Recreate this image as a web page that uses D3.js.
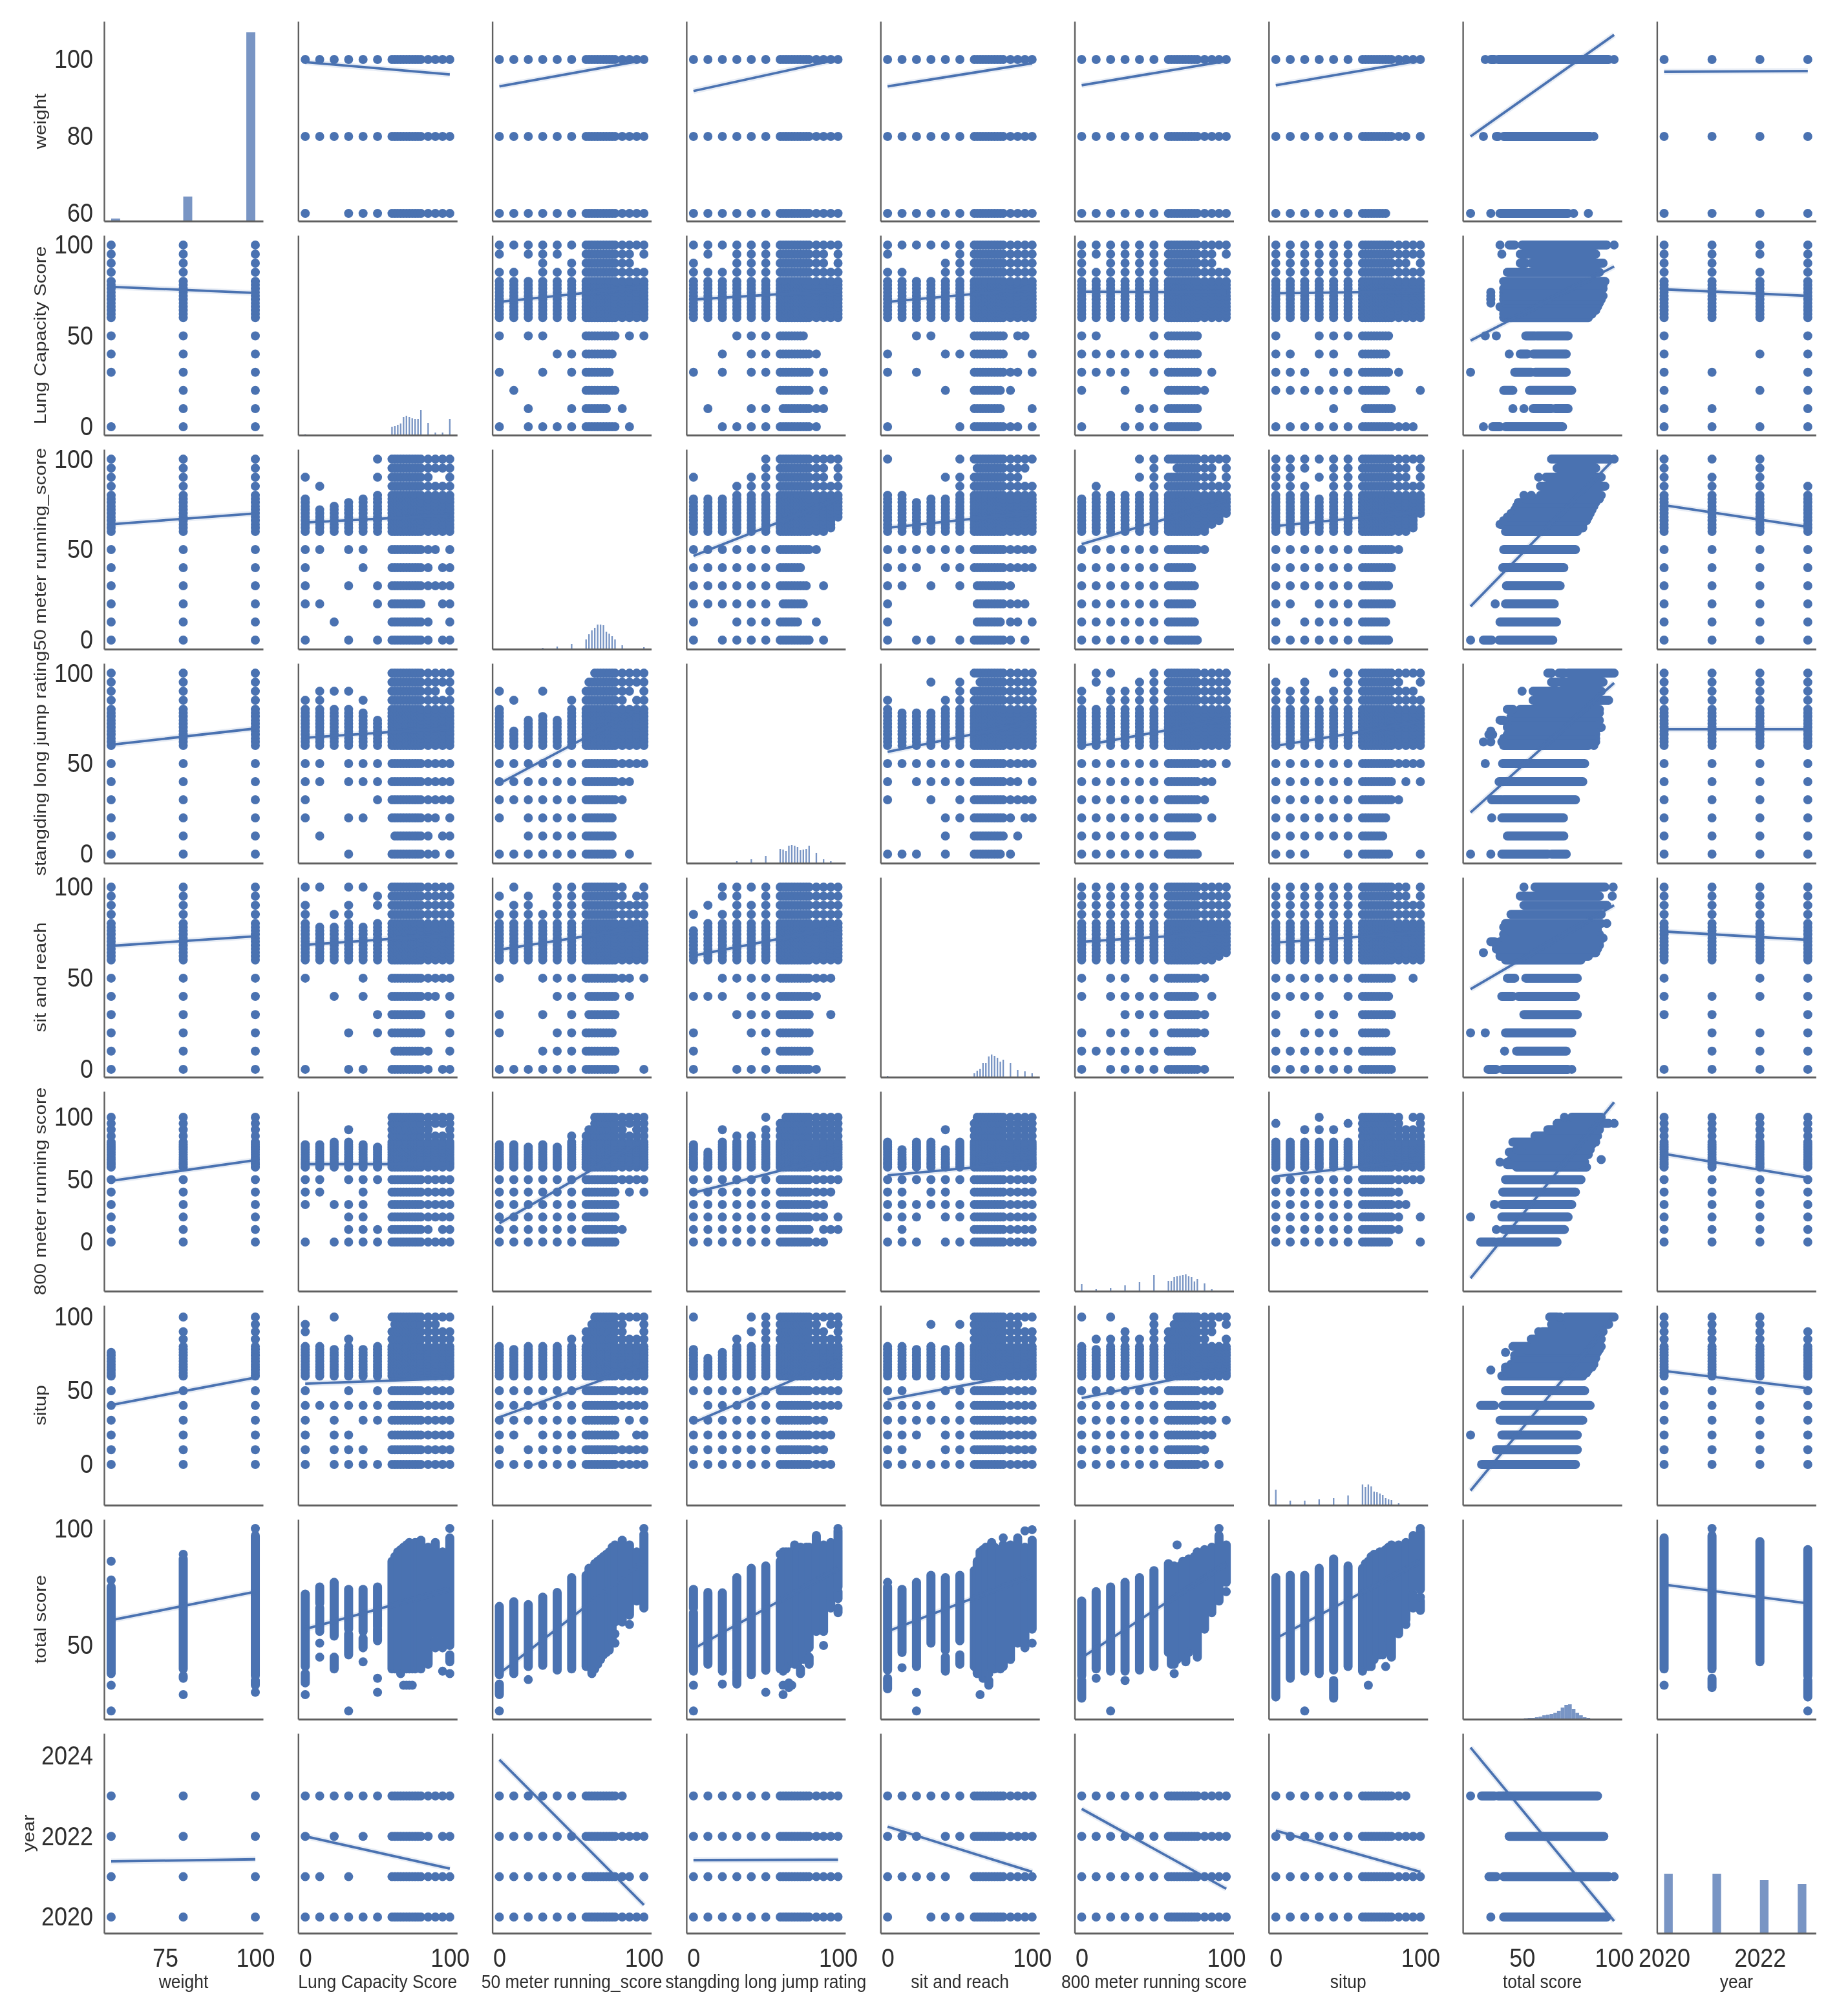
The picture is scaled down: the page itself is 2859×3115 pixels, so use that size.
<!DOCTYPE html>
<html><head><meta charset="utf-8">
<script src="https://cdn.jsdelivr.net/npm/d3@7"></script>
<style>
html,body{margin:0;padding:0;background:#fff}
svg{display:block;filter:blur(0.7px)}
text{font-family:"Liberation Sans",Arial,sans-serif;fill:#2e2e2e}
</style></head><body><svg id="c" width="2859" height="3115"></svg>
<script>
const variables=["weight","lung","run50","jump","sit","run800","situp","total","year"];
const axisLabels=["weight","Lung Capacity Score","50 meter running_score","stangding long jump rating","sit and reach","800 meter running score","situp","total score","year"];
const scoreLevels=[0,10,20,30,40,50,60,62,64,66,68,70,72,74,76,78,80,85,90,95,100];
const weightLevels=[60,80,100], yearLevels=[2020,2021,2022,2023];

const xDomains={weight:[58.03,102.15],lung:[-4.9,105.1],run50:[-4.9,105.1],jump:[-4.9,105.1],sit:[-4.9,105.1],run800:[-4.9,105.1],situp:[-4.9,105.1],total:[17.8,104.2],year:[2019.85,2023.17]};
const yDomains={weight:[58,109.9],lung:[-4.6,105.3],run50:[-5,105.4],jump:[-5,105.4],sit:[-4.3,105.3],run800:[-39.4,120.7],situp:[-27.6,107.9],total:[18.5,103.9],year:[2019.6,2024.55]};
const xTicks={weight:[75,100],lung:[0,100],run50:[0,100],jump:[0,100],sit:[0,100],run800:[0,100],situp:[0,100],total:[50,100],year:[2020,2022]};
const yTicks={weight:[60,80,100],lung:[0,50,100],run50:[0,50,100],jump:[0,50,100],sit:[0,50,100],run800:[0,50,100],situp:[0,50,100],total:[50,100],year:[2020,2022,2024]};

/* diagonal histograms: [bin centre, bar height] */
const hist_weight=[[61.25,4],[81.25,38],[98.75,292]];
const hist_lung=[[0,1.5],[60,13],[62,14],[64,16],[66,18],[68,28],[70,30],[72,28],[74,26],[76,25],[78,25],[80,39],[85,19],[90,4],[95,4],[100,25]];
const hist_run50=[[30,2],[40,4],[50,8],[60,15],[62,23],[64,29],[66,33],[68,38],[70,38],[72,37],[74,27],[76,24],[78,20],[80,15],[85,6],[100,3]];
const hist_jump=[[30,3],[40,6],[50,11],[60,22],[62,21],[64,19],[66,27],[68,28],[70,27],[72,25],[74,20],[76,21],[78,22],[80,27],[85,16],[90,6],[95,3],[100,1]];
const hist_sit=[[0,2],[60,6],[62,10],[64,13],[66,22],[68,22],[70,32],[72,35],[74,33],[76,30],[78,24],[80,27],[85,22],[90,11],[95,9],[100,6]];
const hist_run800=[[0,11],[10,3],[20,5],[30,9],[40,14],[50,25],[60,16],[62,16],[64,22],[66,23],[68,24],[70,25],[72,26],[74,23],[76,22],[78,15],[80,19],[85,12],[90,3],[95,1]];
const hist_situp=[[0,24],[10,7],[20,7],[30,9],[40,11],[50,15],[60,32],[62,28],[64,32],[66,29],[68,21],[70,20],[72,18],[74,16],[76,11],[78,9],[80,8],[85,3]];
const hist_total=[[40,1],[44,1],[48,1],[52,1.5],[54,2],[56,2],[58,3],[60,4],[62,6],[64,7],[66,8],[68,10],[70,13],[72,18],[74,22],[76,23],[78,16],[80,10],[82,6],[84,3],[86,2],[88,1],[90,1],[92,1],[94,1]];
const hist_year=[[2020.09,92],[2021.1,92],[2022.09,82],[2022.88,76]];
const histWidth={weight:2.5,lung:1.05,run50:1.05,jump:1.05,sit:1.05,run800:1.05,situp:1.05,total:2.0,year:0.18};

/* regression lines: [y at smallest x, y at largest x], by column */
const reg_weight=[null,[99.3,96.1],[93,99.8],[91.8,100],[93,99],[93.3,99.6],[93.3,99.7],[80,106.4],[96.8,97]];
const reg_lung=[[77,73.6],null,[68.7,77],[70,75],[68.7,76],[74.3,74],[73.4,74.5],[47.4,88.2],[75.6,72]];
const reg_run50=[[64,70],[65,69],null,[46.5,78],[62,70.5],[53,77],[63,71],[18.6,100],[74.5,62.6]];
const reg_jump=[[60.4,69.4],[64.3,69.6],[39,81.6],null,[56.5,73],[59.8,74.5],[59.8,73],[23,94.6],[69,69]];
const reg_sit=[[67.7,73],[68.3,73.8],[65.6,78],[62.3,78],null,[70,75],[69.5,75],[44,90],[75.6,71]];
const reg_run800=[[49,65.6],[62.4,62.4],[15,82],[39.4,69],[53.4,64],null,[52.6,66],[-29,112],[70.6,51.5]];
const reg_situp=[[40.3,59],[54.8,58.3],[32,67.7],[28.4,70.4],[43.9,62.4],[45,65],null,[-17.7,99.6],[63.4,51.7]];
const reg_total=[[60.8,73],[57,74],[38,86],[48.6,83],[56,80],[44.8,85],[53,86],null,[76,68]];
const reg_year=[[2021.38,2021.43],[2022,2021.2],[2023.9,2020.3],[2021.41,2021.42],[2022.24,2021.12],[2022.68,2020.7],[2022.14,2021.12],[2024.2,2019.9],null];
const regTable={weight:reg_weight,lung:reg_lung,run50:reg_run50,jump:reg_jump,sit:reg_sit,run800:reg_run800,situp:reg_situp,total:reg_total,year:reg_year};
const xEnds={weight:[60,100],lung:[0,100],run50:[0,100],jump:[0,100],sit:[0,100],run800:[0,100],situp:[0,100],total:[22,100],year:[2020,2023]};

/* total score spans seen at each score level (same order as scoreLevels) */
const total_lung=["29 34-38 41-72","45 51 56-66 68-75","40-45 54-77","22 46-55 57-74","43 49-53 56-74","30 36 52-57 58-75","40-86","40-88","40-90","38-91","33 41-92","33 40-93","33 40-94","33 40-93","40-94","41-94","40-95","42-92","49-52 55-94","39 49-90","38 43-46 50-96 100"];
const total_run50=["22 29-33.5 37.5-66.7","38-68.7","35.4 41-67.5","41.5-70.7","39.5-72.7","40-79","41-80","44-83","38-83","40-85","42-86","44-87","46-88","47-89","48-90","52-92","51 55 60-93","60-95","59 63-93","69-90","66-97.5 100"];
const total_jump=["22 33 39-64 66-74","42-72.7","33.5 39-72.5","33.5-39 40-79","37.5-83","30 39.4-84","40-86 89","29 33 39-90","40-90","32-34 42-90","33 43-90","42-93","42-91","38-40 45-92","44-90","46-92","42-45 49-92","56-97","50 56-93","66-69 71-94","64-66 70-73 75-99 100"];
const total_sit=["31.5-36 39.5-75 77","40.5 47-74","22 30 41-77","51-80","39-45 48-79","42-46 52-80","41-82","38-86","29 38-90","36-91","36-92","33-35 38-92","40-94","40-92","43-91","40-91","41-93 96","44-93","51-96","49-92 99","51 57-95 99.5"];
const total_run800=["27.5-35 37-69","36 40-73","22 39-75","35 39-77","39.5-79","41-82","47-85","42-80","38 42-84","44-83 93","46-84","45-86","43-86","47-87","50-86","52-88","45-90","57-91","64-92","69-97 100","73 77-93"];
const total_situp=["28-79","36-80","22 39-80","38-83","27.5-35 39.5-87","41-84","39-83","42-85","33 41-86","41-88","44-89","46-89","46-90","46-90","41 48-91","52-92","45-93","55-93","59 61-94","66-72 75-97","65-69 70.7 74-99 100"];
const total_weight=["22 33 38-75 78 86","29 36-37 40-87 89","30 33-35 37-97 100"];
const total_year=["33 40-96","32-36 40-97 100","43-94.4","22 28-35 37-91"];

/* which score levels occur for each weight / year: low six, middle eleven, top four */
const fullLevels="111111 11111111111 1111";
const weight_lung=["100111 11111111111 1111",fullLevels,fullLevels];
const weight_run50=[fullLevels,fullLevels,fullLevels];
const weight_jump=[fullLevels,fullLevels,fullLevels];
const weight_sit=[fullLevels,fullLevels,fullLevels];
const weight_run800=[fullLevels,fullLevels,fullLevels];
const weight_situp=["111111 11111111100 0000","111111 11111111111 1101",fullLevels];
const year_lung=[fullLevels,"110100 11111111111 1111","101010 11111111111 1011",fullLevels];
const year_run50=[fullLevels,"111111 11111111111 1101",fullLevels,"111111 11111111111 1000"];
const year_jump=[fullLevels,fullLevels,fullLevels,fullLevels];
const year_sit=["100111 11111111111 1111","111110 11111111111 1111","111011 11111111111 1111",fullLevels];
const year_run800=[fullLevels,fullLevels,fullLevels,fullLevels];
const year_situp=[fullLevels,fullLevels,fullLevels,"111111 11111111111 1100"];

/* score against score: rows y=50..0 "x mask / bar start / bar end / 85-100 mask";
   columns x=0..50 "top / 85-100 mask"; columns x=85..100 "bottom / top / mask"; bar starts for y=85..100 */
const lung_by_run50=[["101100 60 80 0101","000011 60 78 0000","100101 60 76 0000","010000 60 80 0000","001001 60 74 1000","101111 60 80 0100"],["80 1011","80 1001","80 0011","80 1111","80 1011","80 1101"],["60 80 1111","60 80 1111","60 80 1001","60 80 1011"],[60,60,60,60]];
const lung_by_jump=[["000111 60 76 0000","001011 60 80 1000","101011 60 80 0100","000000 60 80 0100","010011 62 80 1100","001111 60 80 1000"],["80 1101","80 1011","80 1001","80 1111","80 1111","80 1111"],["60 80 1111","60 80 1111","60 80 1001","60 80 1111"],[60,60,60,60]];
const lung_by_sit=[["001100 60 80 0110","100011 60 80 0001","101000 60 80 1101","000010 60 78 1000","000000 60 78 0001","100001 60 80 1101"],["80 1011","80 1001","80 0001","80 0001","80 1101","80 1111"],["60 80 1111","60 80 1111","60 80 1111","60 80 1111"],[60,60,60,60]];
const lung_by_run800=[["110001 60 80 0000","111111 60 80 0000","111101 60 80 0100","100100 60 80 1000","000011 60 80 0000","100111 60 80 0000"],["80 1111","80 1011","80 1111","80 1111","80 1111","80 1111"],["60 80 1111","60 80 1111","60 80 1001","60 80 1011"],[60,60,60,60]];
const lung_by_situp=[["100111 60 78 0000","110110 60 76 0000","111011 60 78 1000","111111 60 76 0001","000010 62 80 0000","111111 60 80 1110"],["80 1111","80 1111","80 1111","80 1111","80 1111","80 1111"],["60 80 1111","60 80 1111","60 80 1011","60 80 1111"],[60,60,60,60]];

const run50_by_lung=[["110110 60 80 1101","100010 60 80 1011","100101 60 80 1111","110001 60 80 0011","001000 60 80 1001","100101 60 80 1011"],["78 0100","72 1000","74 0000","76 0000","78 0000","80 0101"],["60 80 1111","60 80 1011","60 80 1011","60 80 1111"],[60,60,60,60]];
const run50_by_jump=[["111111 60 80 1000","111111 60 74 0000","111111 60 78 0100","111111 62 76 0000","100111 60 72 1000","101111 60 80 0100"],["78 0100","78 0000","78 0000","80 1000","80 1100","80 1111"],["60 80 1111","60 80 1111","62 80 1001","68 80 1111"],[60,60,60,60]];
const run50_by_sit=[["111111 60 80 1111","111011 60 80 1111","110101 62 80 1000","100000 62 80 1110","100000 62 78 1101","101101 60 80 1010"],["80 0001","80 0000","76 0000","78 0000","78 0100","80 1101"],["60 80 1111","60 80 1111","60 80 1011","60 80 1001"],[60,60,62,60]];
const run50_by_run800=[["111111 60 80 1000","111111 60 76 0000","111111 60 78 0000","111111 60 76 0000","111111 60 78 0000","111111 60 80 0000"],["78 0000","80 1000","80 0000","80 0000","80 0101","80 1111"],["60 80 1111","64 80 1111","66 80 1001","69 80 1111"],[60,60,66,60]];
const run50_by_situp=[["111111 60 80 1000","111111 60 80 0000","111111 60 78 0000","110111 60 80 0000","101111 60 76 0000","111111 60 78 0000"],["80 1111","80 1111","80 1011","78 0101","80 1111","80 1111"],["60 80 1111","60 80 1111","62 80 1001","70 80 1111"],[60,60,60,60]];

const jump_by_lung=[["110111 60 80 1111","110111 60 80 1111","100001 60 80 1111","100110 60 80 1101","010000 62 80 1011","000100 60 80 1101"],["80 1000","80 1100","80 0100","80 0100","78 1000","74 0000"],["60 80 1111","60 80 1111","60 80 1011","60 80 1111"],[60,60,60,60]];
const jump_by_run50=[["111111 60 80 1111","111111 60 80 1100","111111 60 80 1000","101111 60 78 0000","001111 60 78 0000","111111 60 78 0100"],["80 0100","68 1000","74 0000","76 0100","74 0000","80 1000"],["60 80 1111","60 80 0111","60 80 1011","60 80 1111"],[60,60,62,66]];
const jump_by_sit=[["111111 60 80 1111","101111 60 80 1101","100101 60 80 1111","000011 60 80 1011","000010 60 80 0100","111010 60 78 1000"],["80 1000","78 0000","78 0000","78 0010","80 1000","80 1110"],["60 80 1111","60 80 1111","60 80 1111","60 80 1111"],[60,60,64,60]];
const jump_by_run800=[["111111 60 80 1101","111111 60 80 1100","111111 60 80 1000","111111 60 80 0100","111111 60 76 0000","111111 60 80 0000"],["80 1100","80 0011","80 1101","80 1100","80 1110","80 1111"],["60 80 1111","60 80 1111","60 80 1111","60 80 1111"],[60,60,60,60]];
const jump_by_situp=[["111111 60 80 1111","111111 60 80 0101","111111 60 80 1000","111111 60 76 0000","111111 60 74 0000","111001 60 78 0001"],["80 1110","80 1100","80 1110","80 1000","80 1101","80 1111"],["60 80 1111","60 80 1101","60 80 1101","60 80 1011"],[60,60,60,60]];

const sit_by_lung=[["100010 60 80 1111","001010 60 80 1101","000001 60 80 0001","000101 60 80 0001","000000 62 80 1001","100110 60 80 1011"],["80 1101","78 0001","78 1000","80 1101","78 0001","80 0110"],["60 80 1111","60 80 1111","60 80 1111","60 80 1111"],[60,60,60,60]];
const sit_by_run50=[["100111 60 80 1101","000011 62 80 0100","100101 62 80 0000","100011 60 78 0000","000111 60 80 0000","111111 60 80 0001"],["80 1010","80 1101","80 1110","80 1000","80 1111","80 1111"],["60 80 1111","60 80 1100","60 80 1110","60 80 1111"],[60,60,60,60]];
const sit_by_jump=[["001111 60 80 1110","111011 60 80 1000","000111 60 80 0010","100011 60 80 0000","100001 60 80 0000","100111 60 80 1000"],["76 1000","80 0100","80 1011","80 1111","80 1101","80 1111"],["60 80 1111","60 80 1111","60 80 1111","60 80 1111"],[60,60,60,60]];
const sit_by_run800=[["101101 60 80 1000","101111 60 78 0100","000111 60 80 1000","101101 62 80 1000","111111 60 76 0000","101111 60 80 1000"],["80 1111","80 1111","80 1111","80 1111","80 1111","80 1111"],["60 80 1111","60 80 1111","62 80 1111","64 80 1111"],[60,60,60,60]];
const sit_by_situp=[["111111 60 80 0010","111101 60 78 0000","100110 60 80 0000","101110 60 76 0000","111111 60 80 0000","111111 60 80 0000"],["80 1111","80 1111","80 1111","80 1111","80 1111","80 1111"],["60 80 1111","60 80 1111","60 80 1100","60 80 1111"],[60,60,60,60]];

const run800_by_lung=[["110111 60 80 1111","110010 60 80 1111","101110 60 80 1111","000110 60 80 1111","000111 60 80 1011","101111 60 80 1111"],["78 0000","78 0000","80 0000","80 0100","78 0000","76 0000"],["60 80 1111","60 80 1011","60 80 1011","60 80 1111"],[60,60,60,60]];
const run800_by_run50=[["111111 60 80 1111","111111 60 80 0101","111111 60 80 0000","111111 60 80 0000","111111 60 80 1000","111111 60 80 0000"],["78 0000","78 0000","76 0000","78 0000","76 0000","80 1000"],["60 80 1111","60 80 1011","60 80 1111","60 80 1111"],[60,62,66,66]];
const run800_by_jump=[["111111 60 80 1111","111111 60 80 1110","111111 60 80 1100","111111 60 80 1101","111111 60 80 0111","111111 60 80 1100"],["78 0000","72 0000","80 0100","80 1000","80 1000","80 1101"],["60 80 1111","60 80 1111","60 80 1111","60 80 1111"],[60,60,60,64]];
const run800_by_sit=[["111111 60 80 1111","110110 60 80 1111","111111 60 80 1111","111011 60 80 1111","010000 60 80 1111","111011 60 80 1111"],["80 0000","74 0000","80 0000","80 0000","74 0100","80 0000"],["60 80 1111","60 80 1111","60 80 1111","60 80 1111"],[60,60,60,62]];
const run800_by_situp=[["111111 60 80 1111","111111 60 80 1000","111111 60 80 1100","111111 60 80 1001","111111 60 80 1000","111111 60 78 0001"],["80 0010","80 0000","80 0100","80 0101","80 0100","80 0010"],["60 80 1111","60 80 1100","60 80 1101","60 80 1111"],[60,60,60,60]];

const situp_by_lung=[["100101 60 80 1111","111111 60 80 1111","101011 60 80 1111","101100 60 80 1111","101110 60 80 1111","101111 60 80 1111"],["80 0110","80 0000","78 0001","80 1000","78 0000","80 0000"],["60 80 1111","60 80 1111","60 80 1101","60 80 1101"],[60,60,62,60]];
const situp_by_run50=[["111111 60 80 1111","111111 60 80 1111","111111 60 80 0101","110111 60 80 0011","101111 60 80 1111","111111 60 80 1111"],["80 0000","78 0000","80 0000","80 0000","80 0000","80 1000"],["60 80 1111","60 80 1001","60 80 1001","60 80 1111"],[60,60,64,66]];
const situp_by_jump=[["111111 60 80 1111","011111 60 80 1111","111111 60 80 1100","111111 60 80 1110","111111 60 80 1100","111111 60 80 1110"],["78 0001","72 0000","76 0000","80 1000","80 0101","80 1111"],["60 80 1111","60 80 1101","60 80 1011","60 80 1111"],[60,60,60,60]];
const situp_by_sit=[["110011 60 80 1111","111101 60 80 1111","111111 60 80 1111","111011 60 80 1111","110011 60 80 1111","111111 60 80 1111"],["80 0000","80 0000","78 0000","80 0010","78 0000","80 0010"],["60 80 1111","60 80 1111","60 80 1101","60 80 1101"],[60,60,60,60]];
const situp_by_run800=[["111111 60 80 1110","111111 60 80 1100","111111 60 80 1101","111111 60 80 1100","111111 60 80 1000","111111 60 80 1010"],["80 0001","78 1000","80 1001","80 1100","80 1000","80 1111"],["60 80 1111","60 80 0111","60 80 0001","60 80 1011"],[60,60,64,66]];

const pairTable={
 lung:{run50:lung_by_run50,jump:lung_by_jump,sit:lung_by_sit,run800:lung_by_run800,situp:lung_by_situp},
 run50:{lung:run50_by_lung,jump:run50_by_jump,sit:run50_by_sit,run800:run50_by_run800,situp:run50_by_situp},
 jump:{lung:jump_by_lung,run50:jump_by_run50,sit:jump_by_sit,run800:jump_by_run800,situp:jump_by_situp},
 sit:{lung:sit_by_lung,run50:sit_by_run50,jump:sit_by_jump,run800:sit_by_run800,situp:sit_by_situp},
 run800:{lung:run800_by_lung,run50:run800_by_run50,jump:run800_by_jump,sit:run800_by_sit,situp:run800_by_situp},
 situp:{lung:situp_by_lung,run50:situp_by_run50,jump:situp_by_jump,sit:situp_by_sit,run800:situp_by_run800}};
const histTable={weight:hist_weight,lung:hist_lung,run50:hist_run50,jump:hist_jump,sit:hist_sit,run800:hist_run800,situp:hist_situp,total:hist_total,year:hist_year};
const totalTable={lung:total_lung,run50:total_run50,jump:total_jump,sit:total_sit,run800:total_run800,situp:total_situp};
const weightTable={lung:weight_lung,run50:weight_run50,jump:weight_jump,sit:weight_sit,run800:weight_run800,situp:weight_situp};
const yearTable={lung:year_lung,run50:year_run50,jump:year_jump,sit:year_sit,run800:year_run800,situp:year_situp};

/* layout */
const colLeft=i=>161+300.3*i, rowBottom=j=>342+331*j, panelW=246, panelH=309;
const blue="#4a72b1", stretch=1.12, dotR=7;
const svg=d3.select("#c");

const lowX=[0,10,20,30,40,50], lowY=[50,40,30,20,10,0], midL=scoreLevels.slice(6,17), hiL=[85,90,95,100];
function pairPoints(spec){
  const pts=[];
  const [rows,cols,hiCols,starts]=spec;
  midL.forEach(x=>midL.forEach(y=>pts.push([x,y])));
  rows.forEach((s,i)=>{
    const [m,a,b,h]=s.split(" "), y=lowY[i];
    [...m].forEach((c,k)=>{if(c==="1")pts.push([lowX[k],y]);});
    midL.filter(v=>v>=+a&&v<=+b).forEach(x=>pts.push([x,y]));
    [...h].forEach((c,k)=>{if(c==="1")pts.push([hiL[k],y]);});
  });
  cols.forEach((s,i)=>{
    const [t,h]=s.split(" "), x=lowX[i];
    midL.filter(v=>v<=+t).forEach(y=>pts.push([x,y]));
    [...h].forEach((c,k)=>{if(c==="1")pts.push([x,hiL[k]]);});
  });
  hiCols.forEach((s,i)=>{
    const [b,t,h]=s.split(" "), x=hiL[i];
    midL.filter(v=>v>=+b&&v<=+t).forEach(y=>pts.push([x,y]));
    [...h].forEach((c,k)=>{if(c==="1")pts.push([x,hiL[k]]);});
  });
  starts.forEach((st,i)=>midL.filter(v=>v>=st).forEach(x=>pts.push([x,hiL[i]])));
  return pts;
}
function maskPoints(masks,cats,catIsX){
  const pts=[];
  masks.forEach((s,i)=>{
    [...s.replace(/ /g,"")].forEach((c,k)=>{
      if(c==="1")pts.push(catIsX?[cats[i],scoreLevels[k]]:[scoreLevels[k],cats[i]]);
    });
  });
  return pts;
}
function spans(list,cats,catIsX){
  const out=[];
  list.forEach((s,i)=>s.split(" ").forEach(tok=>{
    const p=tok.split("-").map(Number), a=p[0], b=p.length>1?p[1]:p[0];
    out.push(catIsX?[[cats[i],a],[cats[i],b]]:[[a,cats[i]],[b,cats[i]]]);
  }));
  return out;
}
function gridPoints(xs,ys){const p=[];xs.forEach(x=>ys.forEach(y=>p.push([x,y])));return p;}

variables.forEach((rv,j)=>{
  variables.forEach((cv,i)=>{
    const L=colLeft(i),B=rowBottom(j);
    const x=d3.scaleLinear().domain(xDomains[cv]).range([L,L+panelW]);
    const y=d3.scaleLinear().domain(yDomains[rv]).range([B,B-panelH]);
    const g=svg.append("g");
    if(i===j){
      const cnt=d3.scaleLinear().domain([0,panelH]).range([B,B-panelH]);
      const w=histWidth[cv];
      g.selectAll("rect").data(histTable[cv]).join("rect")
        .attr("x",d=>x(d[0]-w/2)).attr("width",d=>x(d[0]+w/2)-x(d[0]-w/2))
        .attr("y",d=>cnt(d[1])).attr("height",d=>B-cnt(d[1]))
        .attr("fill","#4c72b0").attr("opacity",0.75);
    } else {
      let pts=[],segs=[];
      const isTotalR=rv==="total",isTotalC=cv==="total";
      if(isTotalC||isTotalR){
        const other=isTotalC?rv:cv, catIsX=isTotalR;
        if(other==="weight")segs=spans(total_weight,weightLevels,catIsX);
        else if(other==="year")segs=spans(total_year,yearLevels,catIsX);
        else segs=spans(totalTable[other],scoreLevels,catIsX);
      } else if((rv==="weight"&&cv==="year")){pts=gridPoints(yearLevels,weightLevels);}
      else if((rv==="year"&&cv==="weight")){pts=gridPoints(weightLevels,yearLevels);}
      else if(rv==="weight")pts=maskPoints(weightTable[cv],weightLevels,false);
      else if(cv==="weight")pts=maskPoints(weightTable[rv],weightLevels,true);
      else if(rv==="year")pts=maskPoints(yearTable[cv],yearLevels,false);
      else if(cv==="year")pts=maskPoints(yearTable[rv],yearLevels,true);
      else pts=pairPoints(pairTable[rv][cv]);
      const ln=d3.line().x(d=>x(d[0])).y(d=>y(d[1]));
      g.selectAll("circle").data(pts).join("circle")
        .attr("cx",d=>x(d[0])).attr("cy",d=>y(d[1])).attr("r",dotR).attr("fill",blue);
      g.selectAll("path.span").data(segs).join("path").attr("class","span")
        .attr("d",ln).attr("fill","none").attr("stroke",blue)
        .attr("stroke-width",dotR*2).attr("stroke-linecap","round");
      const r=regTable[rv][i], e=xEnds[cv], rp=[[e[0],r[0]],[e[1],r[1]]];
      g.append("path").attr("d",ln(rp)).attr("fill","none").attr("stroke","#4c72b0").attr("stroke-width",9).attr("opacity",0.13);
      g.append("path").attr("d",ln(rp)).attr("fill","none").attr("stroke","#4a72b1").attr("stroke-width",3.8);
    }
    const axL=d3.axisLeft(y).tickSize(0).tickSizeOuter(0).tickPadding(17).tickValues(i===0?yTicks[rv]:[]).tickFormat(d3.format("d"));
    const axB=d3.axisBottom(x).tickSize(0).tickSizeOuter(0).tickPadding(21).tickValues(j===8?xTicks[cv]:[]).tickFormat(d3.format("d"));
    const gl=svg.append("g").attr("transform",`translate(${L},0)`).call(axL);
    const gb=svg.append("g").attr("transform",`translate(0,${B})`).call(axB);
    gl.select(".domain").attr("stroke","#5f5f5f").attr("stroke-width",2.4);
    gb.select(".domain").attr("stroke","#5f5f5f").attr("stroke-width",3);
    gl.selectAll("text").attr("font-size",36).attr("font-family","Liberation Sans").attr("fill","#2e2e2e").attr("transform",`scale(1,${stretch})`);
    gb.selectAll("text").attr("font-size",36).attr("font-family","Liberation Sans").attr("fill","#2e2e2e").attr("transform",`scale(1,${stretch})`);
  });
  const yLabX=rv==="year"?46:64;
  svg.append("text").attr("transform",`translate(${yLabX},${rowBottom(j)-panelH/2}) scale(1,${stretch}) rotate(-90)`)
    .attr("text-anchor","middle").attr("dominant-baseline","middle").attr("font-size",26.5).text(axisLabels[j]);
});
axisLabels.forEach((t,i)=>{
  svg.append("text").attr("transform",`translate(${colLeft(i)+panelW/2},3067) scale(1,${stretch})`)
    .attr("text-anchor","middle").attr("dominant-baseline","middle").attr("font-size",26.5).text(t);
});
</script></body></html>
